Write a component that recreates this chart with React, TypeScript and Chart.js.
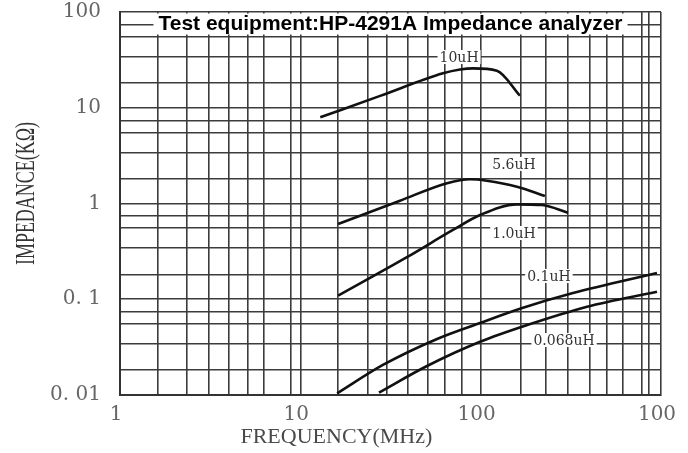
import { useEffect, useRef } from 'react';
import { Chart, registerables } from 'chart.js';

Chart.register(...registerables);

// ---- axis grid / tick data ----
const X_GRID = [1, 1.62, 2.35, 3.12, 4.02, 5.13, 6.29, 8.88, 10, 16.2, 23.7, 30.2, 39.5, 51, 63.4, 78.8, 100, 167, 230, 305, 404, 502, 615, 785, 858, 1000];
const X_MAJOR = [1, 10, 100, 1000];
const X_TICK_LABELS = ['1', '10', '100', '100'];

const Y_GRID = [0.01, 0.0182, 0.0341, 0.0552, 0.0736, 0.1, 0.182, 0.341, 0.552, 0.736, 1, 1.82, 3.41, 5.52, 7.36, 10, 18.2, 34.1, 55.2, 73.6, 100];
const Y_MAJOR = [0.01, 0.1, 1, 10, 100];
const Y_TICK_LABELS = ['0. 01', '0. 1', '1', '10', '100'];

const TITLE = 'Test equipment:HP-4291A Impedance analyzer';
const X_TITLE = 'FREQUENCY(MHz)';
const Y_TITLE = 'IMPEDANCE(KΩ)';

// ---- series (frequency MHz, impedance kΩ) ----
const SERIES_NAMES = ['10uH', '5.6uH', '1.0uH', '0.1uH', '0.068uH'];
const FREQ_10UH = [12.9, 27.7, 61.8, 76.8, 90.7, 123, 165];
const IMP_10UH = [7.95, 13.3, 22.9, 25.1, 25.8, 24.4, 13.4];
const FREQ_5_6UH = [16.2, 35.7, 65.1, 87.3, 108, 159, 227];
const IMP_5_6UH = [0.61, 1.07, 1.63, 1.79, 1.73, 1.5, 1.2];
const FREQ_1_0UH = [16.2, 39.0, 70.2, 99.2, 159, 219, 305];
const IMP_1_0UH = [0.109, 0.275, 0.529, 0.758, 0.98, 0.964, 0.8];
const FREQ_0_1UH = [16.0, 28.7, 57.3, 99.2, 170, 325, 950];
const IMP_0_1UH = [0.0104, 0.0206, 0.0385, 0.0565, 0.081, 0.116, 0.188];
const FREQ_0_068UH = [27.3, 50.4, 99.2, 181, 389, 950];
const IMP_0_068UH = [0.0106, 0.0201, 0.036, 0.0538, 0.0836, 0.12];

// curve label anchors (data coords)
const LABEL_X = [75.9, 153, 153, 239, 290];
const LABEL_Y = [33.9, 2.59, 0.492, 0.175, 0.0375];

const SERIES_F = [FREQ_10UH, FREQ_5_6UH, FREQ_1_0UH, FREQ_0_1UH, FREQ_0_068UH];
const SERIES_Z = [IMP_10UH, IMP_5_6UH, IMP_1_0UH, IMP_0_1UH, IMP_0_068UH];

const overlay = {
  id: 'overlay',
  afterDatasetsDraw(chart: any) {
    const { ctx, chartArea, scales } = chart;
    ctx.save();
    // title box
    ctx.font = 'bold 21px "Liberation Sans", Arial, sans-serif';
    const tw = ctx.measureText(TITLE).width;
    const cx = (chartArea.left + chartArea.right) / 2;
    ctx.fillStyle = '#fff';
    ctx.fillRect(cx - tw / 2 - 5, chartArea.top + 1.5, tw + 10, 21);
    ctx.fillStyle = '#000';
    ctx.textAlign = 'center';
    ctx.textBaseline = 'middle';
    ctx.fillText(TITLE, cx, chartArea.top + 12);

    // curve labels
    ctx.font = '14px "DejaVu Serif", serif';
    SERIES_NAMES.forEach((t, i) => {
      const x = scales.x.getPixelForValue(LABEL_X[i]);
      const y = scales.y.getPixelForValue(LABEL_Y[i]);
      const w = ctx.measureText(t).width;
      ctx.fillStyle = '#fff';
      ctx.fillRect(x - w / 2 - 2, y - 7, w + 4, 14);
      ctx.fillStyle = '#333';
      ctx.fillText(t, x, y + 1);
    });

    // axis titles
    ctx.fillStyle = '#4a4a4a';
    ctx.font = '22px "Liberation Serif", serif';
    ctx.fillText(X_TITLE, chartArea.left + 0.4 * (chartArea.right - chartArea.left), chartArea.bottom + 42);
    ctx.translate(27, chartArea.top + 0.474 * (chartArea.bottom - chartArea.top));
    ctx.rotate(-Math.PI / 2);
    ctx.fillStyle = '#333';
    ctx.font = '28px "Liberation Serif", serif';
    const yw = ctx.measureText(Y_TITLE).width;
    ctx.scale(143 / yw, 1);
    ctx.fillText(Y_TITLE, 0, 0);
    ctx.restore();
  },
};

export default function App() {
  const ref = useRef<HTMLCanvasElement | null>(null);

  useEffect(() => {
    if (!ref.current) return;
    const datasets = SERIES_NAMES.map((name, i) => ({
      label: name,
      data: SERIES_F[i].map((f, j) => ({ x: f, y: SERIES_Z[i][j] })),
      borderColor: '#111',
      borderWidth: 2.6,
      pointRadius: 0,
      cubicInterpolationMode: 'monotone' as const,
      fill: false,
    }));
    const chart = new Chart(ref.current, {
      type: 'line',
      data: { datasets },
      options: {
        animation: false,
        responsive: false,
        devicePixelRatio: 1,
        layout: { padding: { top: 12, right: 27, left: 0, bottom: 0 } },
        plugins: { legend: { display: false }, tooltip: { enabled: false }, title: { display: false } },
        scales: {
          x: {
            type: 'logarithmic',
            min: 1,
            max: 1000,
            afterBuildTicks: (s: any) => {
              s.ticks = X_GRID.map((v) => ({ value: v, major: X_MAJOR.includes(v) }));
            },
            afterFit: (s: any) => {
              s.height = 58;
              s.paddingLeft = 0;
              s.paddingRight = 0;
            },
            grid: { color: '#3c3c3c', lineWidth: 1.6, drawTicks: false },
            border: { display: true, color: '#333', width: 2 },
            ticks: {
              autoSkip: false,
              maxRotation: 0,
              minRotation: 0,
              padding: 8,
              labelOffset: -4,
              color: '#666',
              font: { family: '"DejaVu Serif", serif', size: 20 },
              callback: (value: any) => {
                const i = X_MAJOR.indexOf(Number(value));
                return i >= 0 ? X_TICK_LABELS[i] : '';
              },
            },
          },
          y: {
            type: 'logarithmic',
            min: 0.01,
            max: 100,
            afterBuildTicks: (s: any) => {
              s.ticks = Y_GRID.map((v) => ({ value: v, major: Y_MAJOR.includes(v) }));
            },
            afterFit: (s: any) => {
              s.width = 120;
              s.paddingTop = 0;
              s.paddingBottom = 0;
            },
            grid: { color: '#3c3c3c', lineWidth: 1.6, drawTicks: false },
            border: { display: true, color: '#333', width: 2 },
            ticks: {
              autoSkip: false,
              padding: 19,
              color: '#666',
              font: { family: '"DejaVu Serif", serif', size: 20 },
              callback: (value: any) => {
                const i = Y_MAJOR.indexOf(Number(value));
                return i >= 0 ? Y_TICK_LABELS[i] : '';
              },
            },
          },
        },
      },
      plugins: [overlay],
    });
    return () => chart.destroy();
  }, []);

  return (
    <div style={{ position: 'absolute', left: 0, top: 0, width: 688, height: 453, background: '#fff' }}>
      <canvas ref={ref} width={688} height={453} style={{ display: 'block' }} />
    </div>
  );
}
